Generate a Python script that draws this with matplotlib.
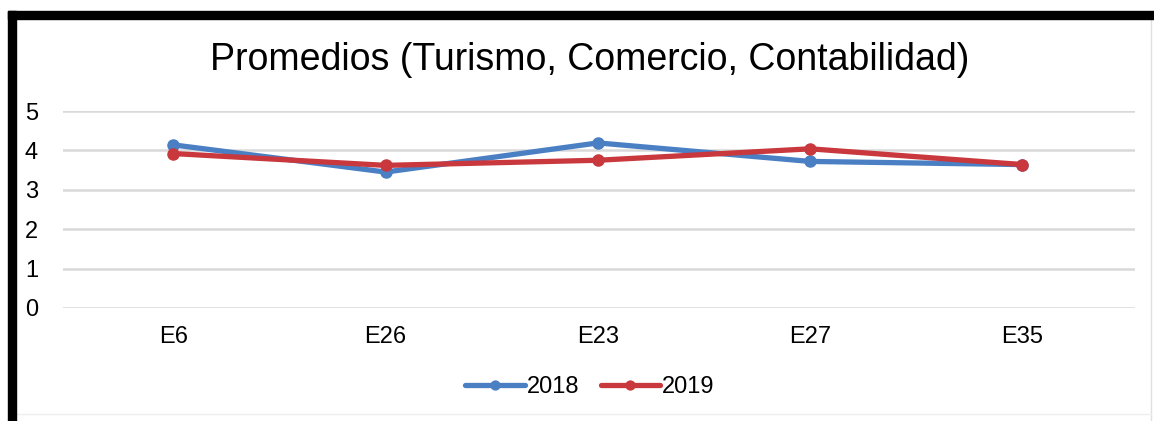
import matplotlib.pyplot as plt
from matplotlib.patches import Rectangle

plt.rcParams['font.family'] = ['Liberation Sans', 'DejaVu Sans']

categories = ['E6', 'E26', 'E23', 'E27', 'E35']
serie_2018 = [4.14, 3.45, 4.19, 3.72, 3.64]
serie_2019 = [3.92, 3.62, 3.75, 4.04, 3.64]

W, H = 1154, 421
fig = plt.figure(figsize=(W / 100, H / 100), dpi=100)
fig.patch.set_facecolor('white')

# marco negro (arriba e izquierda) y borde gris fino
fig.patches.append(Rectangle((8 / W, 1 - 19 / H), (W - 8) / W, 8 / H,
                             transform=fig.transFigure, color='black', zorder=10))
fig.patches.append(Rectangle((8 / W, 0), 8 / W, 1 - 11 / H,
                             transform=fig.transFigure, color='black', zorder=10))
fig.lines.append(plt.Line2D([1151 / W, 1151 / W], [1 - 19 / H, 0],
                            transform=fig.transFigure, color='#e0e0e0', lw=1))
fig.lines.append(plt.Line2D([16 / W, 1151 / W], [1 - 414 / H, 1 - 414 / H],
                            transform=fig.transFigure, color='#eeeeee', lw=1))

ax = fig.add_axes([63 / W, 1 - 308 / H, (1135 - 63) / W, (308 - 111) / H])
x = range(len(categories))
ax.plot(x, serie_2018, color='#4a7fc4', lw=3.8, marker='o', markersize=8,
        label='2018', solid_capstyle='round')
ax.plot(x, serie_2019, color='#c8383d', lw=3.8, marker='o', markersize=8,
        label='2019', solid_capstyle='round')

ax.set_ylim(0, 5)
ax.set_xlim(-0.52, 4.53)
ax.set_yticks(range(6))
ax.set_xticks(list(x))
ax.set_xticklabels(categories)
ax.grid(axis='y', color='#d9d9d9', lw=1.8)
ax.set_axisbelow(True)
for s in ax.spines.values():
    s.set_visible(False)
ax.tick_params(length=0, labelsize=17, colors='black')
ax.tick_params(axis='y', pad=18)
ax.tick_params(axis='x', pad=13)

fig.text(590 / W, 1 - 60 / H, 'Promedios (Turismo, Comercio, Contabilidad)',
         ha='center', va='center', fontsize=27)
ax.legend(loc='center', bbox_to_anchor=(590 / W, 1 - 387 / H),
          bbox_transform=fig.transFigure, ncol=2, frameon=False, fontsize=17,
          handlelength=2.5, columnspacing=0.9, handletextpad=0.1, markerscale=0.8)

fig.savefig('out.png', dpi=100, facecolor='white')
